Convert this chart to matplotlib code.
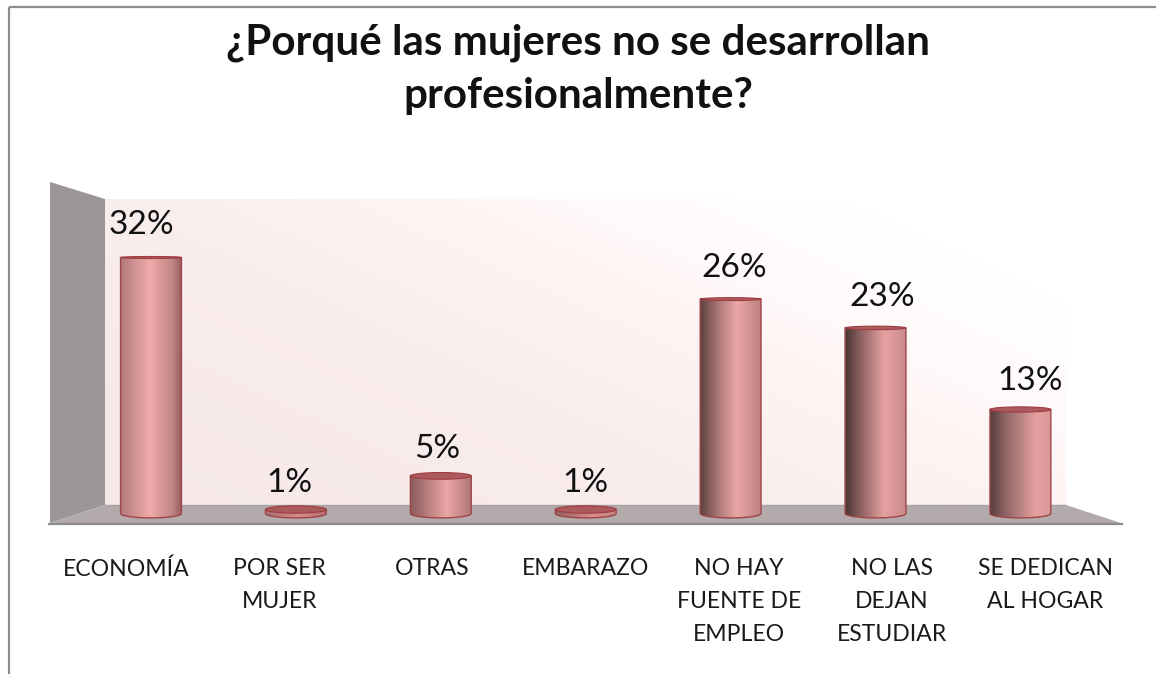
import numpy as np
import matplotlib
matplotlib.use("Agg")
import matplotlib.pyplot as plt
from matplotlib.path import Path
from matplotlib.patches import PathPatch, Polygon, Ellipse
from matplotlib.colors import LinearSegmentedColormap

categories = ["ECONOMÍA", "POR SER\nMUJER", "OTRAS", "EMBARAZO",
              "NO HAY\nFUENTE DE\nEMPLEO", "NO LAS\nDEJAN\nESTUDIAR", "SE DEDICAN\nAL HOGAR"]
bar_heights = [32.0, 0.5, 4.7, 0.5, 26.8, 23.2, 13.0]
value_labels = ["32%", "1%", "5%", "1%", "26%", "23%", "13%"]
title = "¿Porqué las mujeres no se desarrollan\nprofesionalmente?"

W, H = 1156, 674
X0, DX = 151.0, 144.9
Y0, DY = 513.5, 8.0
BW = 0.42
FONT = ["Lato", "DejaVu Sans"]
VALUE_SPREAD = 148.0 / DX   # labels sit on a wider perspective spacing than the bars
CAT_SPREAD = 153.2 / DX

fig = plt.figure(figsize=(W / 100, H / 100), dpi=100, facecolor="white")

bg = fig.add_axes([0, 0, 1, 1], zorder=0)
bg.axis("off")

bg.plot([8.5, 8.5], [H, 7], color="#8c8c8c", lw=1.6, solid_capstyle="butt")
bg.plot([8.5, W], [7, 7], color="#8c8c8c", lw=1.6, solid_capstyle="butt")

yy, xx = np.mgrid[0:1:200j, 0:1:400j]
t = np.clip(0.65 * xx + 0.45 * yy, 0, 1)
wall_cmap = LinearSegmentedColormap.from_list(
    "wall", [(0, "#f6e8e8"), (0.45, "#faeded"), (0.65, "#fff3f3"), (0.78, "#fffafa"), (0.95, "#ffffff"), (1, "#ffffff")])
bg.imshow(t, extent=(105, 1066, 505, 199), origin="lower", cmap=wall_cmap, vmin=0, vmax=1,
          aspect="auto", zorder=1, interpolation="bilinear")
bg.set_xlim(0, W)
bg.set_ylim(H, 0)

bg.add_patch(Polygon([(50, 182), (105, 199), (105, 505), (50, 523)], closed=True,
                     fc="#9b9595", ec="none", zorder=2))
bg.add_patch(Polygon([(50, 523), (105, 505), (1066, 505), (1121, 523)], closed=True,
                     fc="#b3abab", ec="none", zorder=2))
bg.plot([105, 1066], [505, 505], color="#a8a2a2", lw=1, zorder=2)
bg.plot([49, 1122], [523.5, 523.5], color="#8b8b8b", lw=1.6, zorder=3)

ax = fig.add_axes([0, 0, 1, 1], zorder=1)
ax.patch.set_alpha(0)
ax.axis("off")

shading = [
    [(0, "#b07a7a"), (0.47, "#f0abab"), (0.85, "#c08484"), (1, "#935c5c")],
    [(0, "#a86e6e"), (0.55, "#d98c8c"), (1, "#b06f6f")],
    [(0, "#8a5a5a"), (0.30, "#b98080"), (0.60, "#eba6a6"), (1, "#b07878")],
    [(0, "#8f5e5e"), (0.62, "#dd8d8d"), (1, "#c08585")],
    [(0, "#5b3f3f"), (0.28, "#a87474"), (0.60, "#eca6a6"), (1, "#bd8282")],
    [(0, "#4a3535"), (0.25, "#8c6060"), (0.65, "#e8a2a2"), (1, "#c78a8a")],
    [(0, "#573e3e"), (0.25, "#8e6464"), (0.75, "#e6a0a0"), (1, "#d99898")],
]

for i, h in enumerate(bar_heights):
    cmap = LinearSegmentedColormap.from_list(f"c{i}", shading[i])
    x0, x1 = i - BW / 2, i + BW / 2
    bottom_half = 0.55
    top_h = (7.5 - 5.5 * h / 32) / DY
    th = np.linspace(np.pi, 2 * np.pi, 60)
    bx = i + BW / 2 * np.cos(th)
    by = bottom_half * np.sin(th)
    verts = list(zip(bx, by)) + [(x1, h), (x0, h), (x0, 0)]
    img = ax.imshow(np.linspace(0, 1, 256)[None, :], extent=(x0, x1, -bottom_half, h), cmap=cmap,
                    aspect="auto", zorder=3, interpolation="bilinear")
    patch = PathPatch(Path(verts), fc="none", ec="#a04448", lw=1.0, zorder=4)
    ax.add_patch(patch)
    img.set_clip_path(patch)
    ax.add_patch(Ellipse((i, h), BW, top_h, fc="#ad5a5e", ec="#9e3c40", lw=0.8, zorder=5))
    ax.text(3 + (i - 3) * VALUE_SPREAD, h + 3.25 + 0.025 * h, value_labels[i], ha="center", va="center",
            fontsize=24, color="#111111", family=FONT, zorder=6)
    ax.text(3 + (i - 3) * CAT_SPREAD, (Y0 - 558) / DY, categories[i], ha="center", va="top",
            fontsize=16.6, color="#1a1a1a", family=FONT, linespacing=1.72, zorder=6)

ax.set_xlim(-X0 / DX, (W - X0) / DX)
ax.set_ylim((Y0 - H) / DY, Y0 / DY)

fig.text(578 / W, 1 - 69 / H, title, ha="center", va="center", fontsize=30.3, fontweight="bold",
         color="#111111", family=FONT, linespacing=1.49)

fig.savefig("out.png", dpi=100, facecolor="white")
